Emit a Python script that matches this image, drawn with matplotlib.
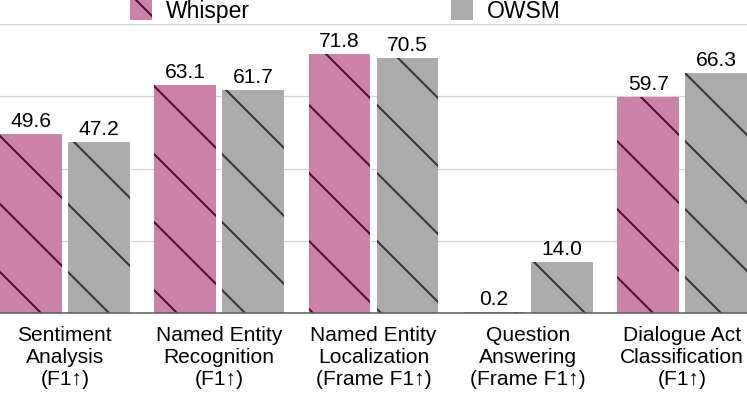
import matplotlib
matplotlib.use('Agg')
import matplotlib.pyplot as plt
import numpy as np

# 数据
tasks = ['Sentiment\nAnalysis\n(F1↑)',
         'Named Entity\nRecognition\n(F1↑)',
         'Named Entity\nLocalization\n(Frame F1↑)',
         'Question\nAnswering\n(Frame F1↑)',
         'Dialogue Act\nClassification\n(F1↑)']
whisper = [49.6, 63.1, 71.8, 0.2, 59.7]
owsm = [47.2, 61.7, 70.5, 14.0, 66.3]

# 高 dpi 让 hatch 线条变稀疏 ('\\\\' 时间距约 dpi/6 像素)
DPI = 408
P = 72.0 / DPI   # 1 像素 = P 磅

plt.rcParams['font.family'] = ['Liberation Sans', 'DejaVu Sans']
plt.rcParams['hatch.linewidth'] = 2.0 * P

fig = plt.figure(figsize=(747 / DPI, 398 / DPI), dpi=DPI)
ax = fig.add_axes([0, 1 - 313 / 398, 1, (313 - 24) / 398])

x = np.arange(len(tasks))
w = 0.4
off = 0.22
b1 = ax.bar(x - off, whisper, w, color='#cb82a8', edgecolor='#4a0d2e',
            linewidth=0, hatch='\\\\', label='Whisper', zorder=2)
b2 = ax.bar(x + off, owsm, w, color='#ababab', edgecolor='#333333',
            linewidth=0, hatch='\\\\', label='OWSM', zorder=2)

ax.bar_label(b1, fmt='%.1f', padding=3 * P, fontsize=21 * P)
ax.bar_label(b2, fmt='%.1f', padding=3 * P, fontsize=21 * P)

ax.set_xlim(-0.42, len(tasks) - 1 + 0.42)
ax.set_ylim(0, 80)
ax.set_yticks([20, 40, 60, 80])
ax.set_yticklabels([])
ax.tick_params(axis='y', length=0)
ax.grid(axis='y', color='#d4d4d4', linewidth=1.2 * P, zorder=0)
ax.set_axisbelow(True)

ax.set_xticks(x)
ax.set_xticklabels(tasks, fontsize=21 * P, linespacing=1.2)
ax.tick_params(axis='x', length=0, pad=13 * P)

for s in ['top', 'left', 'right']:
    ax.spines[s].set_visible(False)
ax.spines['bottom'].set_color('#606060')
ax.spines['bottom'].set_linewidth(1.6 * P)

leg = fig.legend(loc='upper left', bbox_to_anchor=(130 / 747, 1.0), ncol=2,
                 frameon=False, fontsize=23 * P, borderpad=0, borderaxespad=0,
                 handlelength=0.96, handleheight=0.96, handletextpad=0.61,
                 columnspacing=8.74)

fig.savefig('out.png', dpi=DPI)
